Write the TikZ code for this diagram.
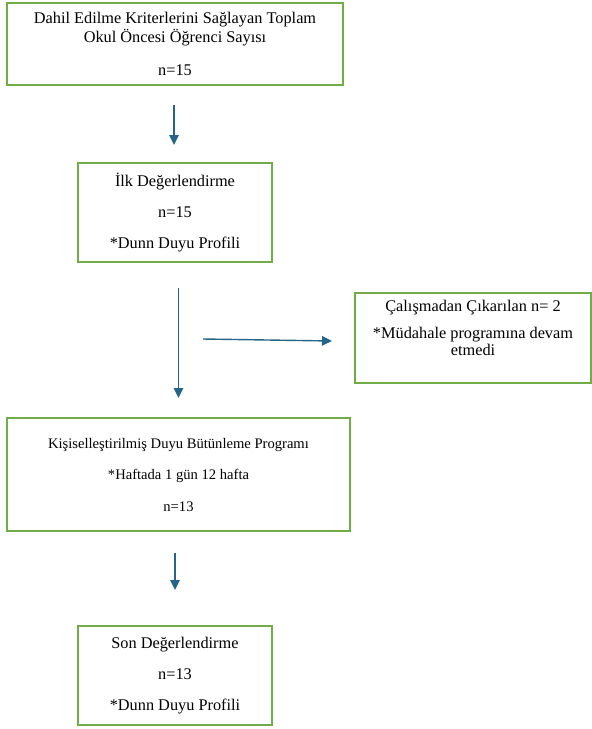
\documentclass[tikz,border=0pt]{standalone}
\usepackage{fontspec}
\setmainfont{Liberation Serif}
\usetikzlibrary{arrows.meta}

\definecolor{kutuyesil}{RGB}{112,173,71}
\definecolor{okmavi}{RGB}{37,101,138}

\tikzset{
	kutu/.style={draw=kutuyesil, line width=1.4pt, align=center, inner sep=0pt,
		font=\fontsize{16.3}{19}\selectfont},
	ok/.style={okmavi, line width=1.4pt, -{Triangle[length=10pt,width=9.5pt]}},
}

\begin{document}
\begin{tikzpicture}[x=1pt,y=-1pt]
		
		\useasboundingbox (0,0) rectangle (592,729);
		
		% kutular
		\node[kutu, minimum width=336pt, minimum height=82pt] (toplam) at (175,44)
		{Dahil Edilme Kriterlerini Sağlayan Toplam\\Okul Öncesi Öğrenci Sayısı\\[14pt]n=15};
		
		\node[kutu, minimum width=194pt, minimum height=99pt] (ilk) at (175,212.5)
		{İlk Değerlendirme\\[12pt]n=15\\[12pt]*Dunn Duyu Profili};
		
		\node[kutu, minimum width=236pt, minimum height=90pt, text depth=20pt,
		font=\fontsize{16.3}{16}\selectfont] (cikan) at (473,338)
		{Çalışmadan Çıkarılan n= 2\\[11pt]*Müdahale programına devam\\[1pt]etmedi};
		
		\node[kutu, minimum width=343pt, minimum height=113pt,
		font=\fontsize{14.6}{18}\selectfont] (program) at (178.5,474.5)
		{Kişiselleştirilmiş Duyu Bütünleme Programı\\[13.5pt]*Haftada 1 gün 12 hafta\\[13.5pt]n=13};
		
		\node[kutu, minimum width=194pt, minimum height=99pt] (son) at (175,675.5)
		{Son Değerlendirme\\[12pt]n=13\\[12pt]*Dunn Duyu Profili};
		
		% oklar
		\coordinate (ok1a) at (174,105);
		\coordinate (ok1b) at (174,145);
		\coordinate (ok2a) at (178.5,288);
		\coordinate (ok2b) at (178.5,398);
		\coordinate (ok3a) at (203,339);
		\coordinate (ok3b) at (332,341);
		\coordinate (ok4a) at (175,553);
		\coordinate (ok4b) at (175,590);
		
		\draw[ok] (ok1a) -- (ok1b);
		\draw[ok] (ok2a) -- (ok2b);
		\draw[ok] (ok3a) -- (ok3b);
		\draw[ok] (ok4a) -- (ok4b);
		
\end{tikzpicture}
\end{document}
